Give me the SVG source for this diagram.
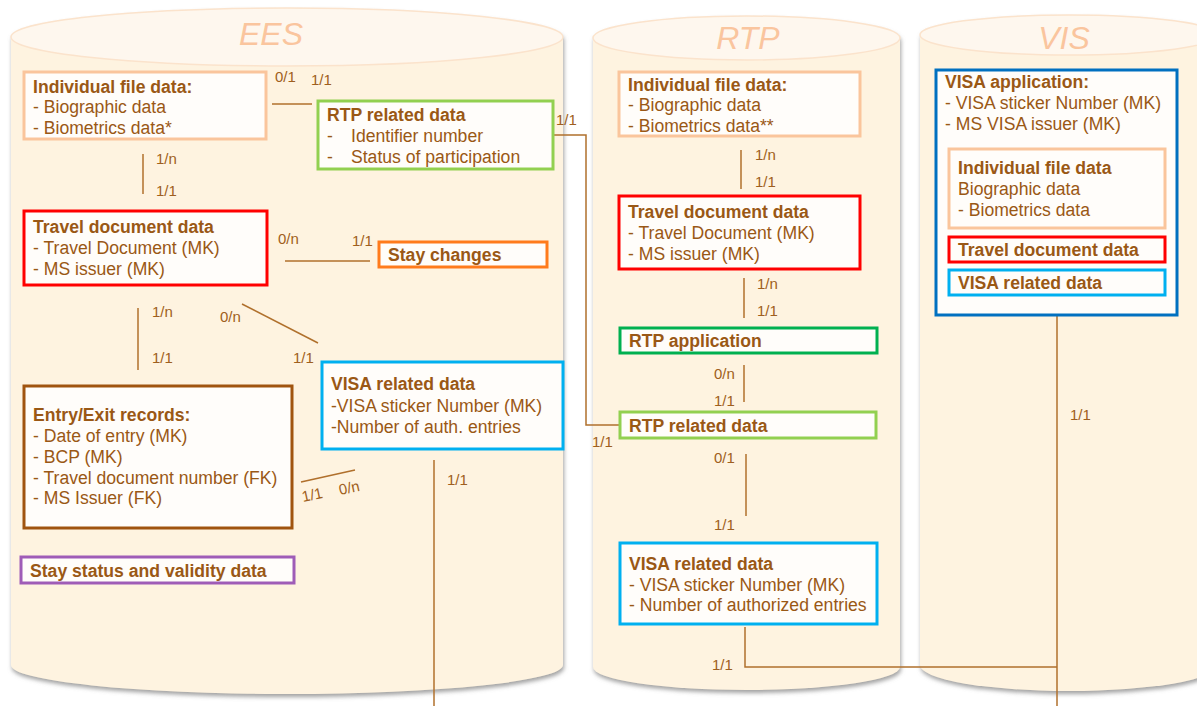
<svg xmlns="http://www.w3.org/2000/svg" width="1197" height="706" viewBox="0 0 1197 706">
<defs>
<filter id="sh" x="-5%" y="-5%" width="110%" height="110%">
<feDropShadow dx="1" dy="3" stdDeviation="2" flood-color="#8a8a8a" flood-opacity="0.8"/>
</filter>
</defs>
<style>
.body{fill:#FEF3E0;filter:url(#sh)}
.top{fill:#FEF7EE;stroke:#FBE3CC;stroke-width:1.5}
.title{font-family:"Liberation Sans",Arial,sans-serif;font-style:italic;font-size:32px;fill:#FAC59E}
.box{fill:#FFFDFA;stroke-width:3}
.t{font-family:"Liberation Sans",Arial,sans-serif;font-size:17.6px;fill:#9A5815}
.b{font-weight:bold}
.lbl{font-family:"Liberation Sans",Arial,sans-serif;font-size:15px;fill:#9E5F20}
.c{fill:none;stroke:#B0702C;stroke-width:1.5}
</style>
<rect width="1197" height="706" fill="#FFFFFF"/>
<g id="cyl-ees">
<path class="body" d="M11,37 A276,29 0 0 1 563,37 L563,665 A276,29 0 0 1 11,665 Z"/>
<ellipse class="top" cx="287" cy="37" rx="276" ry="29"/>
<text class="title" x="271" y="45" text-anchor="middle">EES</text>
</g>
<g id="cyl-rtp">
<path class="body" d="M593,38 A153.5,22 0 0 1 900,38 L900,667 A153.5,23 0 0 1 593,667 Z"/>
<ellipse class="top" cx="746.5" cy="38" rx="153.5" ry="22"/>
<text class="title" x="748" y="49" text-anchor="middle">RTP</text>
</g>
<g id="cyl-vis">
<path class="body" d="M920,35 A149,20 0 0 1 1218,35 L1218,665 A149,26 0 0 1 920,665 Z"/>
<ellipse class="top" cx="1069" cy="35" rx="149" ry="20"/>
<text class="title" x="1064" y="49" text-anchor="middle">VIS</text>
</g>

<g id="connectors">
<line class="c" x1="272" y1="104" x2="312" y2="104"/>
<line class="c" x1="143" y1="154" x2="143" y2="194"/>
<line class="c" x1="285" y1="261" x2="370" y2="261"/>
<line class="c" x1="138" y1="308" x2="138" y2="370"/>
<line class="c" x1="242" y1="304" x2="318" y2="343"/>
<line class="c" x1="301" y1="482" x2="355" y2="470"/>
<line class="c" x1="434" y1="460" x2="434" y2="706"/>
<polyline class="c" points="553,135 586,135 586,425 621,425"/>
<line class="c" x1="741" y1="150" x2="741" y2="189"/>
<line class="c" x1="744" y1="278" x2="744" y2="318"/>
<line class="c" x1="744" y1="365" x2="744" y2="402"/>
<line class="c" x1="746" y1="454" x2="746" y2="516"/>
<polyline class="c" points="745,627 745,667 1057,667"/>
<line class="c" x1="1057" y1="315" x2="1057" y2="706"/>
<g id="labels">
<text class="lbl" x="275" y="82">0/1</text>
<text class="lbl" x="311" y="85">1/1</text>
<text class="lbl" x="156" y="164">1/n</text>
<text class="lbl" x="156" y="196">1/1</text>
<text class="lbl" x="278" y="244">0/n</text>
<text class="lbl" x="352" y="246">1/1</text>
<text class="lbl" x="152" y="317">1/n</text>
<text class="lbl" x="220" y="322">0/n</text>
<text class="lbl" x="152" y="363">1/1</text>
<text class="lbl" x="293" y="363">1/1</text>
<text class="lbl" x="303" y="502" transform="rotate(-12 303 502)">1/1</text>
<text class="lbl" x="340" y="495" transform="rotate(-12 340 495)">0/n</text>
<text class="lbl" x="447" y="485">1/1</text>
<text class="lbl" x="556" y="125">1/1</text>
<text class="lbl" x="592" y="447">1/1</text>
<text class="lbl" x="755" y="160">1/n</text>
<text class="lbl" x="755" y="187">1/1</text>
<text class="lbl" x="757" y="289">1/n</text>
<text class="lbl" x="757" y="316">1/1</text>
<text class="lbl" x="714" y="379">0/n</text>
<text class="lbl" x="714" y="406">1/1</text>
<text class="lbl" x="714" y="463">0/1</text>
<text class="lbl" x="714" y="530">1/1</text>
<text class="lbl" x="712" y="670">1/1</text>
<text class="lbl" x="1070" y="420">1/1</text>
</g>
</g>

<g id="ees-individual">
<rect class="box" x="24" y="72" width="242" height="67" stroke="#FAC59C"/>
<text class="t b" x="33" y="93">Individual file data:</text>
<text class="t" x="33" y="113">- Biographic data</text>
<text class="t" x="33" y="134">- Biometrics data*</text>
</g>
<g id="ees-rtp-related">
<rect class="box" x="318" y="101" width="235" height="68" stroke="#92D050"/>
<text class="t b" x="327" y="121">RTP related data</text>
<text class="t" x="327" y="142">-</text>
<text class="t" x="351" y="142">Identifier number</text>
<text class="t" x="327" y="163">-</text>
<text class="t" x="351" y="163">Status of participation</text>
</g>
<g id="ees-travel-doc">
<rect class="box" x="24" y="211" width="243" height="74" stroke="#FF0000"/>
<text class="t b" x="33" y="233">Travel document data</text>
<text class="t" x="33" y="254">- Travel Document (MK)</text>
<text class="t" x="33" y="275">- MS issuer (MK)</text>
</g>
<g id="ees-stay-changes">
<rect class="box" x="379" y="242" width="168" height="25" stroke="#FF7B1C"/>
<text class="t b" x="388" y="261">Stay changes</text>
</g>
<g id="ees-entry-exit">
<rect class="box" x="24" y="386" width="268" height="142" stroke="#A0540F" fill="#FFFFFF"/>
<text class="t b" x="33" y="421">Entry/Exit records:</text>
<text class="t" x="33" y="442">- Date of entry (MK)</text>
<text class="t" x="33" y="463">- BCP (MK)</text>
<text class="t" x="33" y="484">- Travel document number (FK)</text>
<text class="t" x="33" y="504">- MS Issuer (FK)</text>
</g>
<g id="ees-visa-related">
<rect class="box" x="322" y="362" width="241" height="87" stroke="#00B0F0"/>
<text class="t b" x="331" y="390">VISA related data</text>
<text class="t" x="331" y="412">-VISA sticker Number (MK)</text>
<text class="t" x="331" y="433">-Number of auth. entries</text>
</g>
<g id="ees-stay-status">
<rect class="box" x="21" y="557" width="273" height="26" stroke="#9F5CB7"/>
<text class="t b" x="30" y="577">Stay status and validity data</text>
</g>

<g id="rtp-individual">
<rect class="box" x="619" y="72" width="241" height="64" stroke="#FAC59C"/>
<text class="t b" x="628" y="91">Individual file data:</text>
<text class="t" x="628" y="111">- Biographic data</text>
<text class="t" x="628" y="132">- Biometrics data**</text>
</g>
<g id="rtp-travel-doc">
<rect class="box" x="619" y="196" width="241" height="73" stroke="#FF0000"/>
<text class="t b" x="628" y="218">Travel document data</text>
<text class="t" x="628" y="239">- Travel Document (MK)</text>
<text class="t" x="628" y="260">- MS issuer (MK)</text>
</g>
<g id="rtp-application">
<rect class="box" x="620" y="328" width="257" height="25" stroke="#00B050"/>
<text class="t b" x="629" y="347">RTP application</text>
</g>
<g id="rtp-related">
<rect class="box" x="620" y="412" width="256" height="26" stroke="#92D050"/>
<text class="t b" x="629" y="432">RTP related data</text>
</g>
<g id="rtp-visa-related">
<rect class="box" x="620" y="543" width="257" height="81" stroke="#00B0F0"/>
<text class="t b" x="629" y="570">VISA related data</text>
<text class="t" x="629" y="591">- VISA sticker Number (MK)</text>
<text class="t" x="629" y="611">- Number of authorized entries</text>
</g>

<g id="vis-application">
<rect class="box" x="936" y="70" width="241" height="245" stroke="#0070C0"/>
<text class="t b" x="945" y="88">VISA application:</text>
<text class="t" x="945" y="109">- VISA sticker Number (MK)</text>
<text class="t" x="945" y="130">- MS VISA issuer (MK)</text>
</g>
<g id="vis-individual">
<rect class="box" x="949" y="149" width="216" height="79" stroke="#FAC59C"/>
<text class="t b" x="958" y="174">Individual file data</text>
<text class="t" x="958" y="195">Biographic data</text>
<text class="t" x="958" y="216">- Biometrics data</text>
</g>
<g id="vis-travel-doc">
<rect class="box" x="949" y="237" width="216" height="25" stroke="#FF0000"/>
<text class="t b" x="958" y="256">Travel document data</text>
</g>
<g id="vis-visa-related">
<rect class="box" x="949" y="270" width="216" height="25" stroke="#00B0F0"/>
<text class="t b" x="958" y="289">VISA related data</text>
</g>
</svg>
